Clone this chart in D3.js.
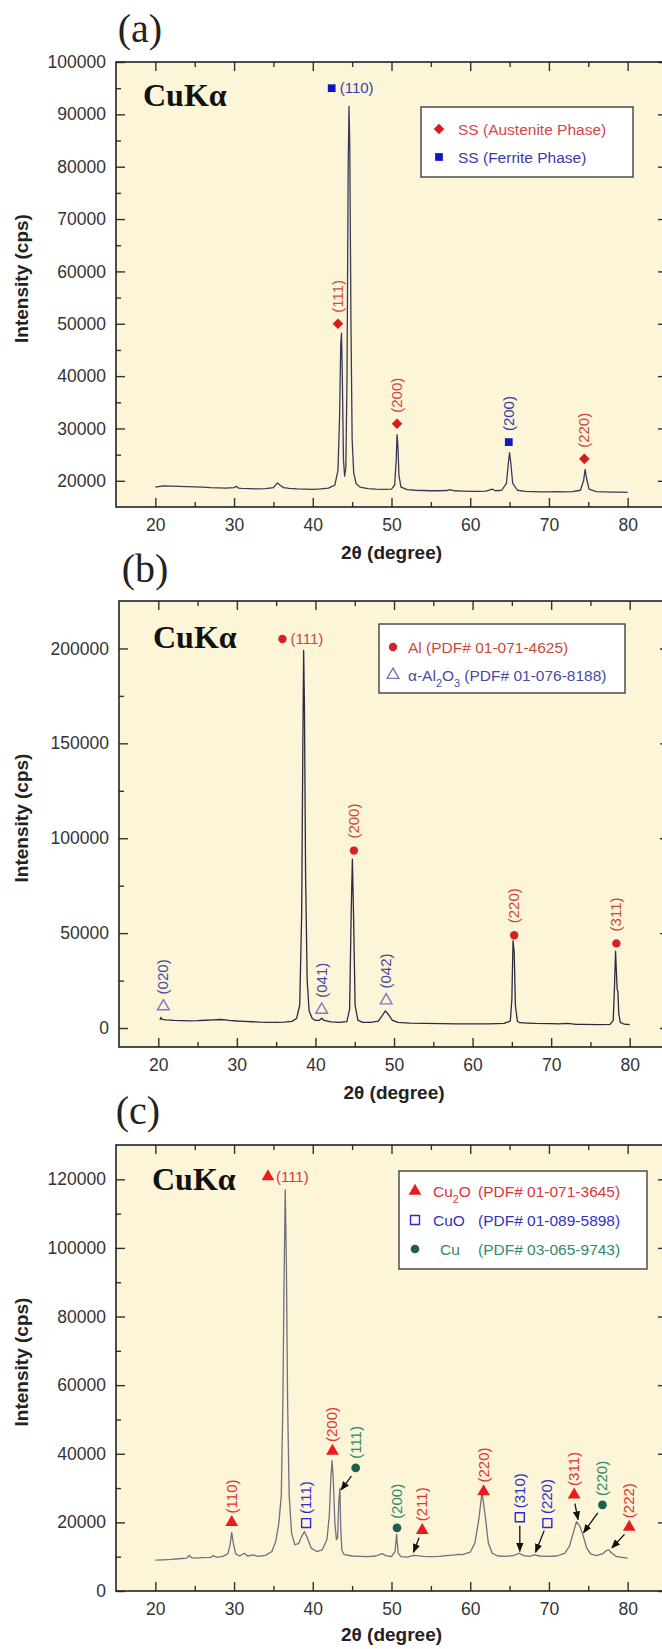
<!DOCTYPE html>
<html>
<head>
<meta charset="utf-8">
<script src="https://cdn.jsdelivr.net/npm/d3@7"></script>
<style>
  body { margin: 0; background: #fff; }
  svg { display: block; font-family: "Liberation Sans", Arial, sans-serif; }
</style>
</head>
<body>
<svg id="chart" width="662" height="1649"></svg>
<script>
// ---- data ----
const xTicks = [20, 30, 40, 50, 60, 70, 80];
const xMinor = [25, 35, 45, 55, 65, 75];

// (a) stainless steel
const yTicksA = [20000, 30000, 40000, 50000, 60000, 70000, 80000, 90000, 100000];
const yMinorA = [25000, 35000, 45000, 55000, 65000, 75000, 85000, 95000];
const specA = [
  [20, 18800], [21, 19050], [22, 19000], [23, 18950], [24, 18900], [25, 18850], [26, 18800],
  [27, 18700], [28, 18650], [29, 18600], [30, 18700], [30.3, 18950], [30.6, 18600], [31, 18550],
  [32, 18500], [33, 18450], [34, 18500], [35, 18700], [35.5, 19600], [35.9, 19100], [36.3, 18700],
  [37, 18550], [38, 18450], [39, 18400], [40, 18350], [41, 18450], [42, 18600], [42.8, 19200],
  [43.2, 22000], [43.4, 32000], [43.55, 46000], [43.65, 48200], [43.75, 40000], [43.9, 24000],
  [44.05, 20900], [44.2, 22500], [44.35, 40000], [44.5, 80000], [44.6, 91500], [44.7, 84000],
  [44.85, 50000], [45.0, 28000], [45.2, 21500], [45.5, 19500], [46, 18800], [47, 18500],
  [48, 18400], [49, 18350], [50, 18400], [50.4, 19200], [50.6, 24000], [50.7, 28800],
  [50.8, 27000], [50.95, 21000], [51.2, 18800], [52, 18300], [53, 18200], [54, 18150],
  [55, 18100], [56, 18100], [57, 18150], [57.4, 18300], [58, 18100], [59, 18050], [60, 18000],
  [61, 18000], [62, 18050], [62.8, 18400], [63.2, 18100], [64, 18200], [64.6, 19500],
  [64.85, 23500], [65.0, 25400], [65.15, 23500], [65.4, 19500], [66, 18200], [67, 18000],
  [68, 17950], [69, 17900], [70, 17900], [71, 17950], [72, 17900], [73, 17950], [74, 18200],
  [74.4, 20000], [74.6, 22200], [74.8, 20300], [75.1, 18400], [76, 17950], [77, 17900],
  [78, 17850], [79, 17850], [80, 17800]
];
const annA = [
  { phase: "ferrite", x: 42.4, y: 95000, label: "(110)", side: "right" },
  { phase: "austenite", x: 43.2, y: 50000, label: "(111)" },
  { phase: "austenite", x: 50.7, y: 30900, label: "(200)" },
  { phase: "ferrite", x: 64.9, y: 27400, label: "(200)" },
  { phase: "austenite", x: 74.5, y: 24200, label: "(220)" }
];
const legendA = [
  { phase: "austenite", name: "SS (Austenite Phase)" },
  { phase: "ferrite", name: "SS (Ferrite Phase)" }
];

// (b) aluminium
const yTicksB = [0, 50000, 100000, 150000, 200000];
const yMinorB = [25000, 75000, 125000, 175000];
const specB = [
  [20.2, 4200], [20.35, 5600], [20.5, 4600], [21, 4300], [22, 4000], [23, 3900], [24, 3800],
  [25, 3900], [26, 4100], [27, 4300], [28, 4500], [28.5, 4300], [29, 4000], [30, 3700],
  [31, 3500], [32, 3300], [33, 3100], [34, 3000], [35, 3000], [36, 3100], [37, 3500],
  [37.6, 5000], [38.0, 12000], [38.25, 60000], [38.4, 150000], [38.5, 199000], [38.6, 170000],
  [38.75, 80000], [38.95, 25000], [39.2, 9000], [39.6, 5000], [40, 4000], [40.5, 4100],
  [40.8, 5200], [41.1, 4000], [42, 3200], [43, 3000], [44, 3400], [44.35, 10000],
  [44.55, 60000], [44.7, 89000], [44.85, 60000], [45.05, 12000], [45.4, 4200], [46, 3000],
  [47, 3000], [48, 3600], [48.5, 6500], [48.9, 9000], [49.3, 7000], [49.8, 4000], [50.5, 3000],
  [52, 2600], [54, 2400], [56, 2300], [58, 2200], [60, 2200], [62, 2200], [64, 2400],
  [64.8, 3600], [65.0, 15000], [65.15, 46000], [65.3, 40000], [65.45, 12000], [65.7, 3600],
  [66, 2800], [67, 2600], [68, 2400], [70, 2300], [71, 2200], [72, 2400], [73, 2000],
  [74, 1900], [76, 1800], [77.5, 1900], [77.9, 4000], [78.05, 20000], [78.2, 40500],
  [78.3, 30000], [78.4, 20500], [78.5, 19000], [78.6, 8000], [78.8, 3000], [79.3, 2000],
  [80, 1800]
];
const annB = [
  { phase: "al", x: 35.8, y: 205000, label: "(111)", side: "right" },
  { phase: "al", x: 44.9, y: 93500, label: "(200)" },
  { phase: "al", x: 65.3, y: 48900, label: "(220)" },
  { phase: "al", x: 78.3, y: 44600, label: "(311)" },
  { phase: "al2o3", x: 20.65, y: 11400, label: "(020)" },
  { phase: "al2o3", x: 40.8, y: 9600, label: "(041)" },
  { phase: "al2o3", x: 49.0, y: 14500, label: "(042)" }
];
const legendB = [
  { phase: "al", name: "Al (PDF# 01-071-4625)" },
  { phase: "al2o3", name: "α-Al_2O_3 (PDF# 01-076-8188)" }
];

// (c) copper oxides
const yTicksC = [0, 20000, 40000, 60000, 80000, 100000, 120000];
const yMinorC = [10000, 30000, 50000, 70000, 90000, 110000];
const specC = [
  [20, 9000], [21, 9100], [22, 9200], [23, 9400], [24, 9600], [24.3, 10400], [24.6, 9700],
  [25, 9600], [26, 9700], [27, 9800], [27.4, 10300], [27.7, 9900], [28.5, 10000], [29.2, 10800],
  [29.5, 13500], [29.7, 17000], [29.9, 14000], [30.2, 10800], [30.7, 10200], [31.3, 11000],
  [31.7, 10200], [32.5, 10500], [33, 10100], [34, 10400], [34.8, 11500], [35.3, 14500],
  [35.7, 20000], [36.0, 28000], [36.2, 55000], [36.35, 90000], [36.5, 117000], [36.65, 95000],
  [36.8, 55000], [37.0, 28000], [37.3, 17000], [37.7, 13500], [38.2, 13800], [38.6, 16000],
  [38.95, 17300], [39.3, 15500], [39.8, 12500], [40.5, 11500], [41.2, 12000], [41.8, 15000],
  [42.1, 22000], [42.3, 33000], [42.45, 38000], [42.6, 33000], [42.8, 20000], [43.0, 15000],
  [43.15, 15500], [43.3, 26000], [43.45, 30000], [43.55, 18000], [43.7, 11800], [44, 10600],
  [45, 10200], [46, 10100], [47, 10000], [48, 10200], [48.8, 10900], [49.3, 10300], [50, 10000],
  [50.45, 11500], [50.65, 16500], [50.85, 11000], [51.2, 10000], [52, 9900], [52.8, 10400],
  [53.2, 10300], [54, 10100], [55, 10000], [56, 10100], [57, 10300], [58, 10500], [58.5, 10700],
  [59, 10600], [60, 11300], [60.6, 14000], [61.1, 21000], [61.5, 28800], [61.9, 22000],
  [62.3, 14000], [62.8, 11000], [63.5, 10200], [64.5, 10100], [65.5, 10300], [66.2, 11000],
  [66.8, 10300], [67.5, 10100], [68.2, 10500], [68.8, 10200], [70, 10100], [71, 10200],
  [72, 11000], [72.6, 13000], [73.1, 17000], [73.5, 20200], [73.9, 19000], [74.3, 16500],
  [74.8, 12500], [75.3, 10800], [76, 10300], [76.8, 10800], [77.3, 11800], [77.6, 12000],
  [78, 11000], [78.6, 10000], [79.3, 9800], [80, 9600]
];
const annC = [
  { phase: "cu2o", x: 29.7, y: 20000, label: "(110)" },
  { phase: "cu2o", x: 34.3, y: 120800, label: "(111)", side: "right" },
  { phase: "cuo", x: 39.15, y: 19800, label: "(111)" },
  { phase: "cu2o", x: 42.5, y: 40800, label: "(200)" },
  { phase: "cu", x: 45.45, y: 35900, label: "(111)" },
  { phase: "cu", x: 50.7, y: 18400, label: "(200)" },
  { phase: "cu2o", x: 53.9, y: 17700, label: "(211)" },
  { phase: "cu2o", x: 61.7, y: 29000, label: "(220)" },
  { phase: "cuo", x: 66.3, y: 21500, label: "(310)" },
  { phase: "cuo", x: 69.8, y: 19800, label: "(220)" },
  { phase: "cu2o", x: 73.2, y: 28000, label: "(311)" },
  { phase: "cu", x: 76.8, y: 25100, label: "(220)" },
  { phase: "cu2o", x: 80.2, y: 18600, label: "(222)" }
];
// arrows: [x1, y1, x2, y2] in data units
const arrowsC = [
  [44.9, 33500, 43.6, 29500],
  [53.5, 15500, 52.8, 11300],
  [66.3, 19000, 66.3, 11600],
  [69.4, 17600, 68.3, 11300],
  [73.3, 25500, 73.7, 20800],
  [76.2, 22800, 74.4, 17000],
  [79.6, 16500, 78.0, 12600]
];
const legendC = [
  { phase: "cu2o", name: "Cu_2O", pdf: "(PDF# 01-071-3645)" },
  { phase: "cuo", name: "CuO", pdf: "(PDF# 01-089-5898)" },
  { phase: "cu", name: "Cu", pdf: "(PDF# 03-065-9743)", indent: 7 }
];

// ---- styles ----
const phaseStyle = {
  austenite: { type: d3.symbolSquare, size: 56, rot: 45, fill: "#d41c1c", stroke: "none", text: "#d04848" },
  ferrite:   { type: d3.symbolSquare, size: 60, rot: 0, fill: "#1515c0", stroke: "none", text: "#3a3aa8" },
  al:        { type: d3.symbolCircle, size: 55, rot: 0, fill: "#d42222", stroke: "none", text: "#c84a3a" },
  al2o3:     { type: d3.symbolTriangle, size: 60, rot: 0, fill: "none", stroke: "#7a7ac4", text: "#4a4aa0" },
  cu2o:      { type: d3.symbolTriangle, size: 70, rot: 0, fill: "#e81c1c", stroke: "none", text: "#e03434" },
  cuo:       { type: d3.symbolSquare, size: 80, rot: 0, fill: "none", stroke: "#2a2ad6", text: "#3030c8" },
  cu:        { type: d3.symbolCircle, size: 60, rot: 0, fill: "#1f5f50", stroke: "none", text: "#2f8a6e" }
};

const svg = d3.select("#chart");
svg.append("defs").append("marker")
  .attr("id", "arrow").attr("viewBox", "0 0 10 10").attr("refX", 9).attr("refY", 5)
  .attr("markerWidth", 7).attr("markerHeight", 7).attr("orient", "auto")
  .append("path").attr("d", "M0,1 L10,5 L0,9 z").attr("fill", "#111");

function addRich(textSel, str) {
  // "_2" -> subscript 2
  str.split(/(_\d)/).forEach(part => {
    if (!part) return;
    if (part[0] === "_") {
      textSel.append("tspan").attr("baseline-shift", "sub").attr("font-size", "0.7em").text(part.slice(1));
    } else {
      textSel.append("tspan").text(part);
    }
  });
}

function marker(g, phase, cx, cy) {
  const s = phaseStyle[phase];
  g.append("path")
    .attr("d", d3.symbol(s.type, s.size)())
    .attr("transform", `translate(${cx},${cy}) rotate(${s.rot})`)
    .attr("fill", s.fill)
    .attr("stroke", s.stroke)
    .attr("stroke-width", s.stroke === "none" ? 0 : 1.4);
}

function panel(p) {
  const g = svg.append("g");
  const x = d3.scaleLinear().domain([15, 85]).range([p.left, p.right]);
  const y = d3.scaleLinear().domain(p.yDomain).range([p.bottom, p.top]);

  g.append("rect").attr("x", p.left).attr("y", p.top)
    .attr("width", p.right - p.left).attr("height", p.bottom - p.top)
    .attr("fill", "#fcf5d7");

  const put = (axis, tx, ty) => g.append("g")
    .attr("transform", `translate(${tx},${ty})`)
    .call(axis)
    .call(s => s.select(".domain").remove())
    .call(s => s.selectAll("line").attr("stroke", "#333").attr("stroke-width", 1.4))
    .call(s => s.selectAll("text").attr("font-size", 17.5).attr("fill", "#333")
      .attr("font-family", "'Liberation Sans', Arial, sans-serif"));

  put(d3.axisBottom(x).tickValues(xTicks).tickSize(-9).tickPadding(12).tickFormat(d3.format("d")), 0, p.bottom);
  put(d3.axisBottom(x).tickValues(xMinor).tickSize(-5).tickFormat(""), 0, p.bottom);
  put(d3.axisTop(x).tickValues(xTicks).tickSize(-9).tickFormat(""), 0, p.top);
  put(d3.axisTop(x).tickValues(xMinor).tickSize(-5).tickFormat(""), 0, p.top);
  put(d3.axisLeft(y).tickValues(p.yTicks).tickSize(-9).tickPadding(10).tickFormat(d3.format("d")), p.left, 0);
  put(d3.axisLeft(y).tickValues(p.yMinor).tickSize(-5).tickFormat(""), p.left, 0);
  put(d3.axisRight(y).tickValues(p.yTicks).tickSize(-9).tickFormat(""), p.right, 0);
  put(d3.axisRight(y).tickValues(p.yMinor).tickSize(-5).tickFormat(""), p.right, 0);

  // pattern
  g.append("path").datum(p.spec)
    .attr("d", d3.line().x(d => x(d[0])).y(d => y(d[1])))
    .attr("fill", "none").attr("stroke", p.lineColor).attr("stroke-width", 1.3)
    .attr("stroke-linejoin", "round");

  // arrows
  (p.arrows || []).forEach(a => {
    g.append("line")
      .attr("x1", x(a[0])).attr("y1", y(a[1])).attr("x2", x(a[2])).attr("y2", y(a[3]))
      .attr("stroke", "#111").attr("stroke-width", 1.3).attr("marker-end", "url(#arrow)");
  });

  // peak markers and Miller indices
  p.ann.forEach(a => {
    const cx = x(a.x), cy = y(a.y);
    marker(g, a.phase, cx, cy);
    const col = phaseStyle[a.phase].text;
    if (a.side === "right") {
      g.append("text").attr("x", cx + 8).attr("y", cy + 5)
        .attr("font-size", 15).attr("fill", col).text(a.label);
    } else {
      g.append("text")
        .attr("transform", `translate(${cx + 5},${cy - p.labelGap}) rotate(-90)`)
        .attr("font-size", 15).attr("fill", col).text(a.label);
    }
  });

  // legend
  const L = p.legend;
  g.append("rect").attr("x", L.x).attr("y", L.y).attr("width", L.w).attr("height", L.h)
    .attr("fill", "#fff").attr("stroke", "#333").attr("stroke-width", 1.3);
  L.items.forEach((it, i) => {
    const cy = L.y + L.first + i * L.step;
    marker(g, it.phase, L.x + L.symX, cy);
    const col = phaseStyle[it.phase].text;
    const t = g.append("text").attr("x", L.x + L.textX + (it.indent || 0)).attr("y", cy + 5.5)
      .attr("font-size", 15.5).attr("fill", col);
    addRich(t, it.name);
    if (it.pdf) {
      g.append("text").attr("x", L.x + L.pdfX).attr("y", cy + 5.5)
        .attr("font-size", 15.5).attr("fill", col).text(it.pdf);
    }
  });

  // source label
  g.append("text").attr("x", p.left + p.kx).attr("y", p.top + p.ky)
    .attr("font-family", "'Liberation Serif', 'Times New Roman', serif")
    .attr("font-weight", "bold").attr("font-size", 32).attr("fill", "#111")
    .text("CuKα");

  // frame
  g.append("rect").attr("x", p.left).attr("y", p.top)
    .attr("width", p.right - p.left).attr("height", p.bottom - p.top)
    .attr("fill", "none").attr("stroke", "#222").attr("stroke-width", 1.6);

  // axis titles
  g.append("text")
    .attr("transform", `translate(28,${(p.top + p.bottom) / 2 - 6}) rotate(-90)`)
    .attr("text-anchor", "middle").attr("font-weight", "bold").attr("font-size", 19)
    .attr("fill", "#222").text("Intensity (cps)");
  g.append("text").attr("x", (p.left + p.right) / 2).attr("y", p.bottom + p.titleDy)
    .attr("text-anchor", "middle").attr("font-weight", "bold").attr("font-size", 19)
    .attr("fill", "#222").text("2θ (degree)");

  // panel letter
  g.append("text").attr("x", p.tagX).attr("y", p.tagY)
    .attr("text-anchor", "middle")
    .attr("font-family", "'Liberation Serif', 'Times New Roman', serif")
    .attr("font-size", 40).attr("fill", "#222").text(p.tag);
}

panel({
  tag: "(a)", tagX: 140, tagY: 42,
  left: 116, right: 667, top: 62, bottom: 507, yDomain: [15000, 100000],
  yTicks: yTicksA, yMinor: yMinorA, spec: specA, lineColor: "#3a3a58",
  ann: annA, labelGap: 11, kx: 27, ky: 44, titleDy: 52,
  legend: { x: 421, y: 107, w: 212, h: 70, first: 22, step: 28, symX: 18, textX: 37, items: legendA }
});

panel({
  tag: "(b)", tagX: 145, tagY: 582,
  left: 119, right: 669, top: 601, bottom: 1047, yDomain: [-10000, 225000],
  yTicks: yTicksB, yMinor: yMinorB, spec: specB, lineColor: "#2b2b45",
  ann: annB, labelGap: 12, kx: 34, ky: 47, titleDy: 52,
  legend: { x: 379, y: 624, w: 246, h: 69, first: 23, step: 28, symX: 14, textX: 29, items: legendB }
});

panel({
  tag: "(c)", tagX: 138, tagY: 1124,
  left: 116, right: 667, top: 1145, bottom: 1591, yDomain: [0, 130000],
  yTicks: yTicksC, yMinor: yMinorC, spec: specC, lineColor: "#70707e",
  ann: annC, labelGap: 9, kx: 36, ky: 45, titleDy: 50, arrows: arrowsC,
  legend: { x: 399, y: 1171, w: 248, h: 98, first: 20, step: 29, symX: 16, textX: 34, pdfX: 79, items: legendC }
});
</script>
</body>
</html>
